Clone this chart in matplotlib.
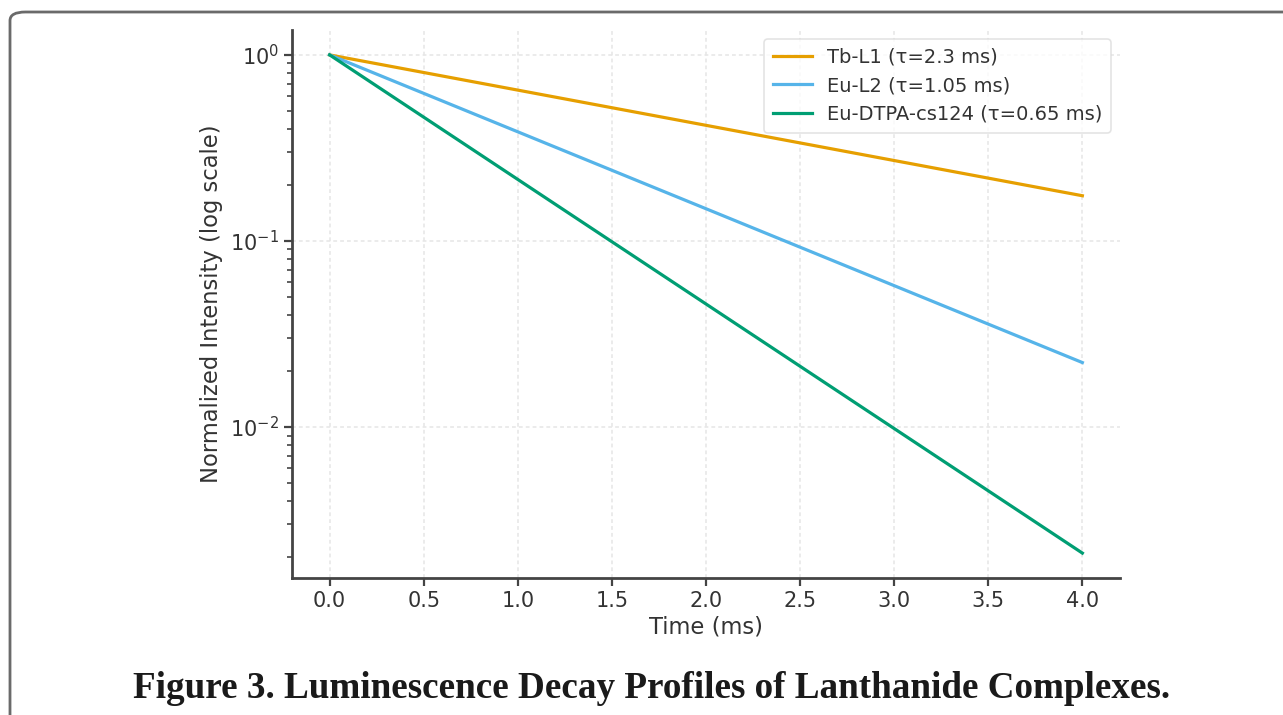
import matplotlib
matplotlib.use("Agg")
import matplotlib.pyplot as plt
from matplotlib.patches import FancyBboxPatch

# end points of each decay curve (straight on log axis)
time_ms = [0.0, 4.0]
tb_l1 = [1.0, 0.175]
eu_l2 = [1.0, 0.0222]
eu_dtpa = [1.0, 0.00210]

labels = ["Tb-L1 (τ=2.3 ms)", "Eu-L2 (τ=1.05 ms)", "Eu-DTPA-cs124 (τ=0.65 ms)"]
colors = ["#E69F00", "#56B4E9", "#009E73"]

fig = plt.figure(figsize=(12.83, 7.15), dpi=100)

# rounded frame around the figure
frame = FancyBboxPatch((10 / 1283, -0.05), 1.2, 1.05 - 12 / 715,
                       boxstyle="round,pad=0,rounding_size=0.012",
                       transform=fig.transFigure, facecolor="none",
                       edgecolor="#6a6a6a", linewidth=2.0, clip_on=False)
fig.patches.append(frame)

ax = fig.add_axes([292 / 1283, 1 - 578 / 715, (1120 - 292) / 1283, (578 - 30) / 715])

for y, lab, c in zip([tb_l1, eu_l2, eu_dtpa], labels, colors):
    ax.plot(time_ms, y, color=c, linewidth=2.3, label=lab)

ax.set_yscale("log")
ax.set_xticks([0.0, 0.5, 1.0, 1.5, 2.0, 2.5, 3.0, 3.5, 4.0])

ax.grid(True, which="major", linestyle=(0, (2.5, 2)), color="#e6e6e6", linewidth=1.1)
for s in ["top", "right"]:
    ax.spines[s].set_visible(False)
for s in ["left", "bottom"]:
    ax.spines[s].set_color("#444444")
    ax.spines[s].set_linewidth(2.0)

ax.tick_params(axis="both", which="major", labelsize=15, colors="#444444",
               labelcolor="#333333", length=6, width=1.6)
ax.tick_params(axis="y", which="minor", colors="#444444", length=3.5, width=1.2)

ax.set_xlabel("Time (ms)", fontsize=16.3, color="#333333", labelpad=3)
ax.set_ylabel("Normalized Intensity (log scale)", fontsize=16.3, color="#333333", labelpad=5)

leg = ax.legend(loc="upper right", fontsize=14, frameon=True, handlelength=2.0,
                borderpad=0.45, labelspacing=0.5, fancybox=True,
                borderaxespad=0.45)
leg.get_frame().set_edgecolor("#dddddd")
leg.get_frame().set_linewidth(1.2)
for t in leg.get_texts():
    t.set_color("#333333")

fig.text(652 / 1283, 1 - 688 / 715,
         "Figure 3. Luminescence Decay Profiles of Lanthanide Complexes.",
         ha="center", va="center", fontsize=26.7, fontweight="bold",
         family="Liberation Serif", color="#1a1a1a")

fig.savefig("out.png", dpi=100)
